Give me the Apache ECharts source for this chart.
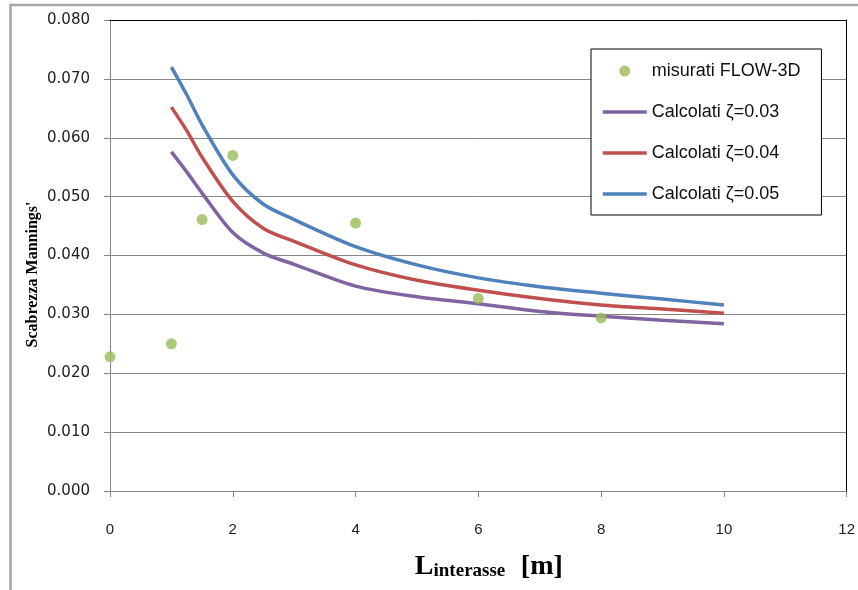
<!DOCTYPE html>
<html>
<head>
<meta charset="utf-8">
<script src="https://cdn.jsdelivr.net/npm/echarts@6/dist/echarts.min.js"></script>
<style>html,body{margin:0;padding:0;background:#fff}#c{width:858px;height:590px}</style>
</head>
<body>
<div id="c"></div>
<script>
// Measured points (FLOW-3D)
const measuredX = [0, 1, 1.5, 2, 4, 6, 8];
const measuredY = [0.0228, 0.0250, 0.0461, 0.0570, 0.0455, 0.0327, 0.0294];
// Calculated curves
const curveX = [1, 1.25, 1.5, 2, 2.5, 3, 4, 5, 6, 7, 8, 9, 10];
const calc003 = [0.0576, 0.0542, 0.0506, 0.0439, 0.0404, 0.0385, 0.0348, 0.0330, 0.0318, 0.0305, 0.0297, 0.0290, 0.0284];
const calc004 = [0.0652, 0.0612, 0.0567, 0.0492, 0.0446, 0.0424, 0.0384, 0.0358, 0.0341, 0.0327, 0.0316, 0.0309, 0.0302];
const calc005 = [0.0720, 0.0673, 0.0622, 0.0537, 0.0487, 0.0461, 0.0415, 0.0384, 0.0362, 0.0347, 0.0336, 0.0326, 0.0316];
const seriesNames = ['misurati FLOW-3D', 'Calcolati \u03B6=0.03', 'Calcolati \u03B6=0.04', 'Calcolati \u03B6=0.05'];
const xTicks = [0, 2, 4, 6, 8, 10, 12];
const yTicks = [0, 0.01, 0.02, 0.03, 0.04, 0.05, 0.06, 0.07, 0.08];

const zip = (xs, ys) => xs.map((x, i) => [x, ys[i]]);
const gray = '#878787';
const lineW = 3.5;

const chart = echarts.init(document.getElementById('c'), null, {renderer: 'canvas'});
chart.setOption({
  animation: false,
  backgroundColor: '#fff',
  graphic: [{
    type: 'rect', silent: true, z: 0,
    shape: {x: 10.5, y: 5, width: 1000, height: 1000},
    style: {fill: 'none', stroke: '#a6a6a6', lineWidth: 2.5}
  }],
  grid: {left: 110, right: 9, top: 20, bottom: 99, show: false},
  legend: {
    orient: 'vertical',
    left: 591, top: 49,
    padding: [13, 21, 12, 10],
    itemGap: 23,
    itemWidth: 44, itemHeight: 11,
    borderColor: '#000', borderWidth: 1,
    backgroundColor: '#fff',
    lineStyle: {width: 3.5},
    textStyle: {fontFamily: 'Liberation Sans', fontSize: 18, color: '#111', lineHeight: 16},
    data: [
      {name: seriesNames[0], icon: 'circle'},
      {name: seriesNames[1], itemStyle: {opacity: 0}},
      {name: seriesNames[2], itemStyle: {opacity: 0}},
      {name: seriesNames[3], itemStyle: {opacity: 0}}
    ]
  },
  xAxis: [{
    type: 'value', min: 0, max: 12, interval: 2,
    axisLine: {show: true, onZero: false, lineStyle: {color: gray, width: 1}},
    axisTick: {show: true, inside: false, length: 6, lineStyle: {color: gray}},
    axisLabel: {margin: 31, fontFamily: 'Liberation Sans', fontSize: 15, color: '#222',
      formatter: v => xTicks.includes(v) ? String(v) : ''},
    splitLine: {show: false},
    name: '{L|L}{sub|interasse}{sp|  }{L|[m]}',
    nameLocation: 'middle', nameGap: 60,
    nameTextStyle: {
      padding: [0, 0, 0, 21],
      rich: {
        L: {fontFamily: 'Liberation Serif', fontWeight: 'bold', fontSize: 28, color: '#000', lineHeight: 30, verticalAlign: 'bottom'},
        sub: {fontFamily: 'Liberation Serif', fontWeight: 'bold', fontSize: 19, color: '#000', lineHeight: 30, verticalAlign: 'bottom'},
        sp: {fontSize: 28, lineHeight: 30}
      }
    }
  }, {
    type: 'value', min: 0, max: 12, interval: 2, position: 'top', z: 10,
    axisLine: {show: true, onZero: false, lineStyle: {color: '#000', width: 1}},
    axisTick: {show: false}, axisLabel: {show: false}, splitLine: {show: false}
  }],
  yAxis: [{
    type: 'value', min: 0, max: 0.08, interval: 0.01,
    axisLine: {show: true, onZero: false, lineStyle: {color: gray, width: 1}},
    axisTick: {show: true, inside: false, length: 6, lineStyle: {color: gray}},
    axisLabel: {margin: 20, fontFamily: 'DejaVu Sans', fontSize: 15, color: '#222',
      formatter: v => v.toFixed(3)},
    splitLine: {show: true, lineStyle: {color: gray, width: 1}},
    name: "Scabrezza Mannings'",
    nameLocation: 'middle', nameGap: 69, nameRotate: 90, nameMoveOverlap: false,
    nameTextStyle: {fontFamily: 'Liberation Serif', fontWeight: 'bold', fontSize: 16, color: '#000',
      padding: [0, 38, 0, 0]}
  }, {
    type: 'value', min: 0, max: 0.08, interval: 0.01, position: 'right', z: 10,
    axisLine: {show: true, onZero: false, lineStyle: {color: '#000', width: 1}},
    axisTick: {show: false}, axisLabel: {show: false}, splitLine: {show: false}
  }],
  series: [
    {
      name: seriesNames[0], type: 'scatter', symbol: 'circle', symbolSize: 11,
      itemStyle: {color: '#9BBB59'}, z: 5,
      data: zip(measuredX, measuredY)
    },
    {
      name: seriesNames[1], type: 'line', symbol: 'none', showSymbol: false, smooth: 0.3,
      lineStyle: {color: '#8064A2', width: lineW}, itemStyle: {color: '#8064A2'},
      data: zip(curveX, calc003)
    },
    {
      name: seriesNames[2], type: 'line', symbol: 'none', showSymbol: false, smooth: 0.3,
      lineStyle: {color: '#C0504D', width: lineW}, itemStyle: {color: '#C0504D'},
      data: zip(curveX, calc004)
    },
    {
      name: seriesNames[3], type: 'line', symbol: 'none', showSymbol: false, smooth: 0.3,
      lineStyle: {color: '#4F81BD', width: lineW}, itemStyle: {color: '#4F81BD'},
      data: zip(curveX, calc005)
    }
  ]
});
</script>
</body>
</html>
